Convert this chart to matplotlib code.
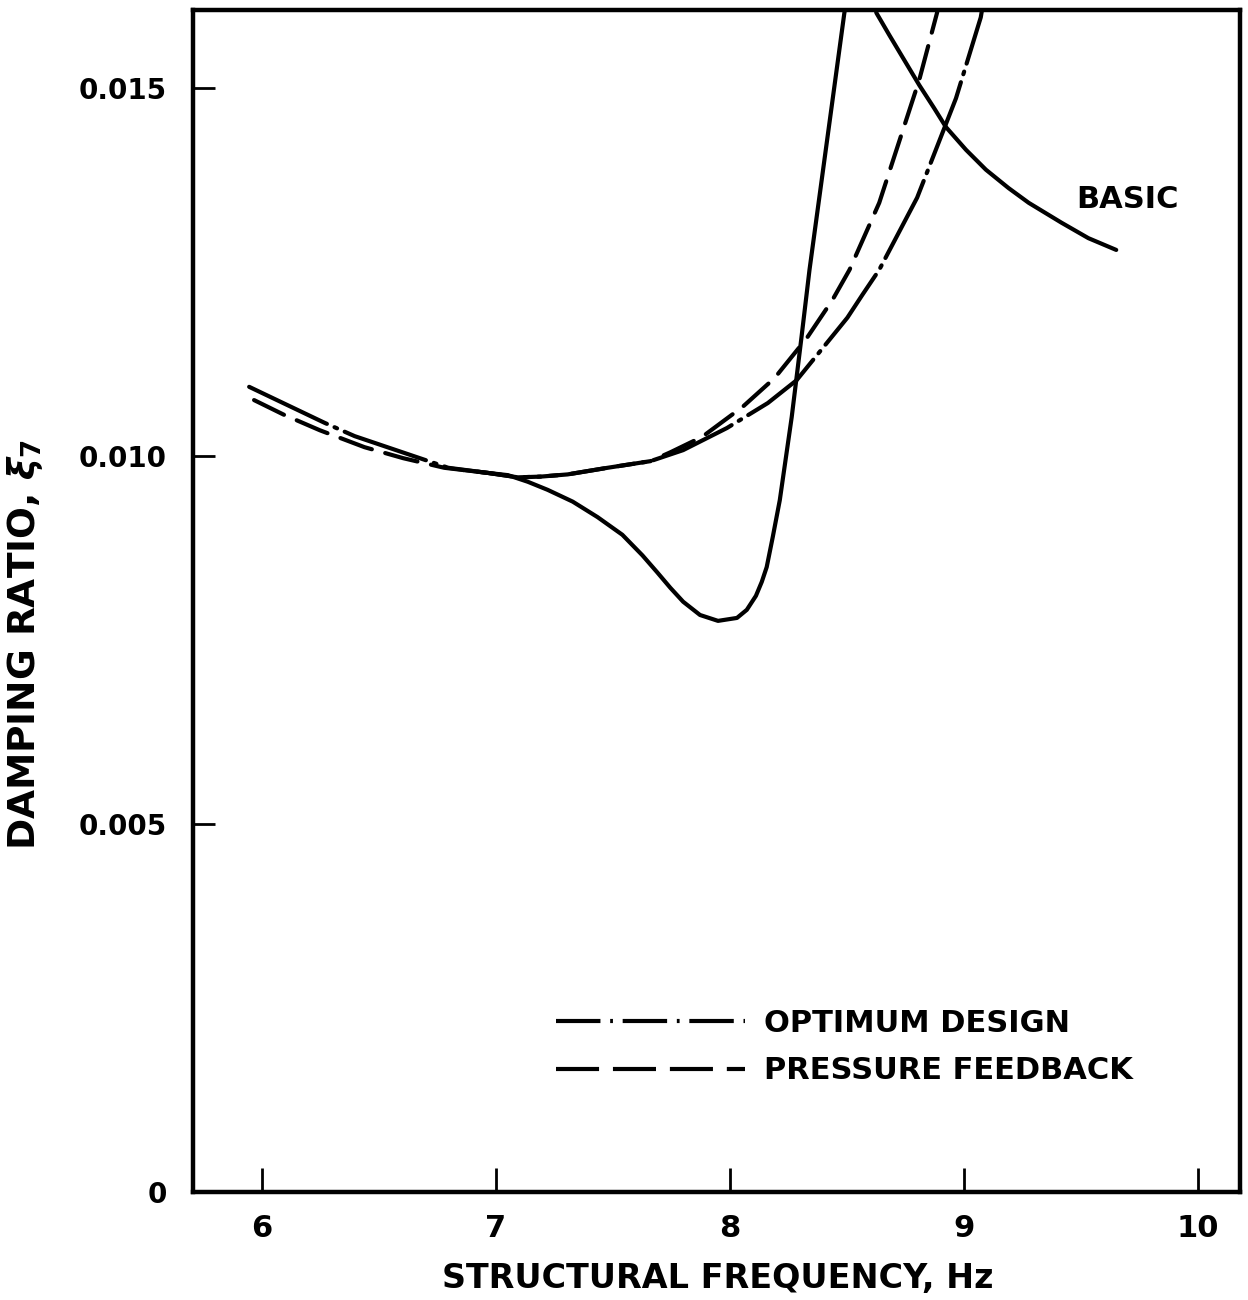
import numpy as np
import matplotlib
matplotlib.use("Agg")
import matplotlib.pyplot as plt
from matplotlib.lines import Line2D

plt.rcParams.update({
    "font.family": "DejaVu Sans",
    "font.weight": "bold",
    "lines.scale_dashes": False,
})

# structural frequency (Hz) vs damping ratio
basic_lo_f = [6.86, 6.966, 7.051, 7.136, 7.221, 7.328, 7.434, 7.540, 7.626, 7.689,
              7.745, 7.800, 7.872, 7.949, 8.030, 8.072, 8.111, 8.136, 8.157, 8.183,
              8.213, 8.264, 8.306, 8.340, 8.489, 8.505]
basic_lo_z = [0.00981, 0.00977, 0.00974, 0.00965, 0.00954, 0.00938, 0.00917, 0.00893,
              0.00865, 0.00842, 0.00821, 0.00802, 0.00784, 0.00776, 0.00780, 0.00791,
              0.00810, 0.00829, 0.00849, 0.00890, 0.00940, 0.01053, 0.01162, 0.01253,
              0.01602, 0.01630]
basic_hi_f = [8.61, 8.626, 8.681, 8.745, 8.809, 8.872, 8.923, 9.009, 9.094, 9.191,
              9.277, 9.417, 9.532, 9.651]
basic_hi_z = [0.01630, 0.01602, 0.01572, 0.01538, 0.01504, 0.01473, 0.01447, 0.01416,
              0.01389, 0.01364, 0.01344, 0.01317, 0.01296, 0.01280]

press_f = [5.966, 6.094, 6.247, 6.438, 6.604, 6.779, 6.966, 7.094, 7.191, 7.306,
           7.477, 7.66, 7.745, 7.881, 8.055, 8.191, 8.328, 8.438, 8.511, 8.638,
           8.809, 8.885, 8.91]
press_z = [0.01076, 0.01056, 0.01035, 0.01012, 0.00997, 0.00984, 0.00977, 0.00971,
           0.00972, 0.00975, 0.00984, 0.00993, 0.01005, 0.01026, 0.01067, 0.01106,
           0.01160, 0.01212, 0.01253, 0.01344, 0.01511, 0.01602, 0.01640]

optim_f = [5.945, 6.268, 6.396, 6.796, 6.966, 7.094, 7.191, 7.306, 7.477, 7.66,
           7.80, 7.987, 8.162, 8.285, 8.502, 8.566, 8.638, 8.80, 8.966, 9.072, 9.09]
optim_z = [0.01094, 0.01045, 0.01027, 0.00984, 0.00977, 0.00971, 0.00972, 0.00975,
           0.00984, 0.00993, 0.01008, 0.01038, 0.01072, 0.01103, 0.01188, 0.01219,
           0.01253, 0.01351, 0.01486, 0.01596, 0.01630]

xticks = [6, 7, 8, 9, 10]
yticks = [0, 0.005, 0.010, 0.015]
ytick_labels = ["0", "0.005", "0.010", "0.015"]

DASH = (0, (24, 10))
DASHDOT = (0, (62, 6, 2, 6))
LW = 3.0

fig = plt.figure(figsize=(12.48, 13.0), dpi=100)
ax = fig.add_axes([193 / 1248, 108 / 1300, 1047 / 1248, 1182 / 1300])

ax.plot(basic_lo_f, basic_lo_z, color="black", lw=LW, solid_capstyle="round",
        solid_joinstyle="round")
ax.plot(basic_hi_f, basic_hi_z, color="black", lw=LW, solid_capstyle="round",
        solid_joinstyle="round")
ax.plot(press_f, press_z, color="black", lw=LW, linestyle=DASH, dash_capstyle="round")
ax.plot(optim_f, optim_z, color="black", lw=LW, linestyle=DASHDOT, dash_capstyle="round")

ax.text(9.48, 0.01348, "BASIC", fontsize=22, fontweight="bold", ha="left", va="center")

ax.set_xlim(5.705, 10.18)
ax.set_ylim(0, 0.01606)
ax.set_xticks(xticks)
ax.set_xticklabels([str(v) for v in xticks])
ax.set_yticks(yticks)
ax.set_yticklabels(ytick_labels)
ax.tick_params(axis="x", direction="in", length=17, width=2, pad=16, labelsize=22)
ax.tick_params(axis="y", direction="in", length=16, width=2, pad=19, labelsize=20)
for sp in ax.spines.values():
    sp.set_linewidth(3.2)

ax.set_xlabel("STRUCTURAL FREQUENCY, Hz", fontsize=24, fontweight="bold")
ax.xaxis.set_label_coords(0.5014, -0.059)
ax.set_ylabel(r"DAMPING RATIO, $\xi_7$", fontsize=27, fontweight="bold")
ax.yaxis.set_label_coords(-0.141, 0.463)

h_opt = Line2D([], [], color="black", lw=LW, linestyle=(0, (32, 7, 2, 7)))
h_pf = Line2D([], [], color="black", lw=LW, linestyle=(0, (31, 10)))
ax.legend([h_opt, h_pf], ["OPTIMUM DESIGN", "PRESSURE FEEDBACK"],
          loc="center left", bbox_to_anchor=(0.3467, 0.1225), frameon=False,
          prop={"size": 22, "weight": "bold"}, handlelength=6.2,
          handletextpad=0.6, labelspacing=0.6, borderpad=0, borderaxespad=0)

fig.savefig("out.png", dpi=100, facecolor="white")
